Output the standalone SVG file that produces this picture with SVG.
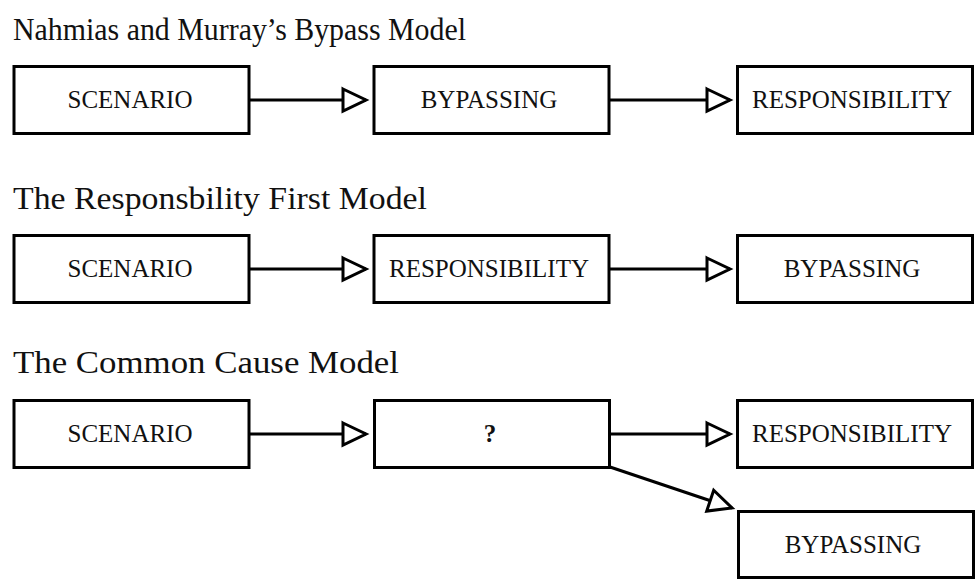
<svg xmlns="http://www.w3.org/2000/svg" width="976" height="579" viewBox="0 0 976 579">
<style>
.box{fill:#fff;stroke:#000;stroke-width:3}
.lbl{font-family:'Liberation Serif','DejaVu Serif','Times New Roman',serif;font-size:25px;fill:#111;text-anchor:middle}
.q{font-weight:bold}
.ttl{font-family:'Liberation Serif','DejaVu Serif','Times New Roman',serif;font-size:32px;fill:#111}
.edge{stroke:#000;stroke-width:3;fill:none;marker-end:url(#ah)}
</style>
<defs>
<marker id="ah" markerUnits="userSpaceOnUse" markerWidth="30" markerHeight="26" refX="25" refY="13" orient="auto" overflow="visible">
<path d="M2,2 L25,13 L2,24 Z" fill="#fff" stroke="#000" stroke-width="3" stroke-linejoin="miter"/>
</marker>
</defs>
<rect width="976" height="579" fill="#fff"/>
<g id="titles">
<text class="ttl" x="13" y="40" textLength="453" lengthAdjust="spacingAndGlyphs">Nahmias and Murray’s Bypass Model</text>
<text class="ttl" x="13" y="209" textLength="414" lengthAdjust="spacingAndGlyphs">The Responsbility First Model</text>
<text class="ttl" x="13" y="373" textLength="386" lengthAdjust="spacingAndGlyphs">The Common Cause Model</text>
</g>
<g id="connectors">
<line class="edge" x1="250" y1="100" x2="366" y2="100"/>
<line class="edge" x1="610" y1="100" x2="730" y2="100"/>
<line class="edge" x1="250" y1="269" x2="366" y2="269"/>
<line class="edge" x1="610" y1="269" x2="730" y2="269"/>
<line class="edge" x1="250" y1="434" x2="366" y2="434"/>
<line class="edge" x1="610" y1="434" x2="730" y2="434"/>
<line class="edge" x1="610" y1="467" x2="732" y2="508"/>
</g>
<g id="n1-scenario"><rect class="box" x="14" y="66.5" width="235" height="67"/><text class="lbl" x="130" y="108">SCENARIO</text></g>
<g id="n1-bypassing"><rect class="box" x="374" y="66.5" width="235" height="67"/><text class="lbl" x="489" y="108">BYPASSING</text></g>
<g id="n1-responsibility"><rect class="box" x="737.5" y="66.5" width="235" height="67"/><text class="lbl" x="852" y="108">RESPONSIBILITY</text></g>
<g id="n2-scenario"><rect class="box" x="14" y="235.5" width="235" height="67"/><text class="lbl" x="130" y="277">SCENARIO</text></g>
<g id="n2-responsibility"><rect class="box" x="374" y="235.5" width="235" height="67"/><text class="lbl" x="489" y="277">RESPONSIBILITY</text></g>
<g id="n2-bypassing"><rect class="box" x="737.5" y="235.5" width="235" height="67"/><text class="lbl" x="852" y="277">BYPASSING</text></g>
<g id="n3-scenario"><rect class="box" x="14" y="400.5" width="235" height="67"/><text class="lbl" x="130" y="442">SCENARIO</text></g>
<g id="n3-unknown"><rect class="box" x="374.5" y="400.5" width="235" height="67"/><text class="lbl q" x="490" y="442">?</text></g>
<g id="n3-responsibility"><rect class="box" x="737.5" y="400.5" width="235" height="67"/><text class="lbl" x="852" y="442">RESPONSIBILITY</text></g>
<g id="n3-bypassing"><rect class="box" x="738.5" y="511.5" width="235" height="66"/><text class="lbl" x="853" y="553">BYPASSING</text></g>
</svg>
